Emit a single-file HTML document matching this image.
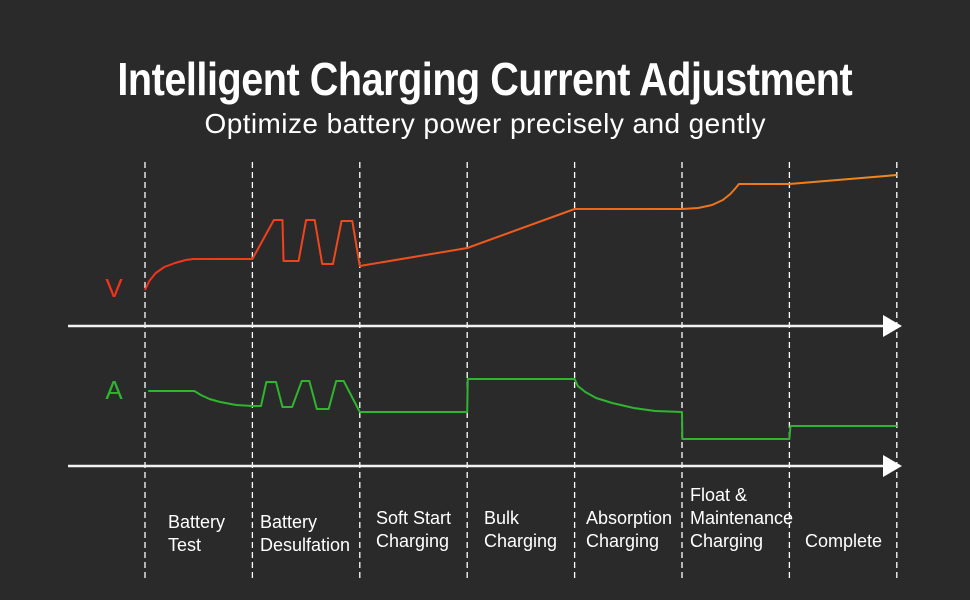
<!DOCTYPE html>
<html><head><meta charset="utf-8"><style>
html,body{margin:0;padding:0;background:#2a2a2a;}
svg{display:block}
</style></head><body>
<svg width="970" height="600" viewBox="0 0 970 600">
<defs>
<linearGradient id="vg" x1="145" y1="0" x2="897" y2="0" gradientUnits="userSpaceOnUse">
<stop offset="0" stop-color="#f2321c"/><stop offset="0.45" stop-color="#f0581c"/><stop offset="1" stop-color="#f08a1c"/>
</linearGradient>
</defs>
<rect width="970" height="600" fill="#2a2a2a"/>
<text x="485" y="95" text-anchor="middle" fill="#fff" font-family="Liberation Sans, sans-serif" font-weight="bold" font-size="46" transform="translate(485 0) scale(0.86 1) translate(-485 0)" textLength="855">Intelligent Charging Current Adjustment</text>
<text x="485" y="133" text-anchor="middle" fill="#fff" font-family="Liberation Sans, sans-serif" font-size="28" textLength="561">Optimize battery power precisely and gently</text>
<g id="grid"></g>
<g id="axes"></g>
<text x="114" y="297" text-anchor="middle" fill="#f2321c" font-family="Liberation Sans, sans-serif" font-size="26">V</text>
<text x="114" y="399" text-anchor="middle" fill="#2fb52f" font-family="Liberation Sans, sans-serif" font-size="26">A</text>
<g id="series"></g>
<g id="labels"></g>
</svg>
<script>
const stages = [["Battery","Test"],["Battery","Desulfation"],["Soft Start","Charging"],["Bulk","Charging"],["Absorption","Charging"],["Float &","Maintenance","Charging"],["Complete"]];
// time in stage units (0..7), values in relative units
const vTime = [0,0.04,0.1,0.18,0.28,0.38,0.45,1,1.2,1.28,1.29,1.43,1.5,1.58,1.65,1.75,1.83,1.93,2,3,4,5,5.15,5.28,5.38,5.45,5.5,5.53,6,7];
const vVals = [36,45,53,59,63,66,67,67,106,106,65,65,106,106,62,62,105,105,60,78,117,117,118,121,126,132,138,142,142,151];
const aTime = [0.03,0.46,0.52,0.6,0.7,0.85,1,1.08,1.13,1.22,1.28,1.37,1.46,1.53,1.6,1.71,1.78,1.85,2,3,3.005,4,4.03,4.1,4.2,4.35,4.55,4.75,5,5.003,6,6.01,7];
const aVals = [75,75,71,67,64,61,60,60,84,84,59,59,85,85,57,57,85,85,54,54,87,87,80,74,68,63,58,55,54,27,27,40,40];
const x0=145, dx=107.4;
function xs(t){return x0+t*dx;}
function yv(v){return 326-v;}
function ya(v){return 466-v;}
const NS="http://www.w3.org/2000/svg";
function mk(tag,attrs,parent){const e=document.createElementNS(NS,tag);for(const k in attrs)e.setAttribute(k,attrs[k]);parent.appendChild(e);return e;}
const grid=document.getElementById('grid');
for(let i=0;i<=stages.length;i++){
  const l=mk('line',{x1:xs(i),x2:xs(i),y1:162,y2:580,stroke:'#fff','stroke-width':1.3,'stroke-dasharray':'6 4'},grid);
  
  
}
const axes=document.getElementById('axes');
[326,466].forEach((y,i)=>{
  const g=mk('g',{},axes);
  
  
  mk('line',{x1:68,x2:886,y1:y,y2:y,stroke:'#f2f2f2','stroke-width':2.5},g);
  mk('polygon',{points:`883,${y-11} 902,${y} 883,${y+11}`,fill:'#fff'},g);
});
const ser=document.getElementById('series');
const vp=mk('polyline',{points:vTime.map((t,i)=>xs(t)+','+yv(vVals[i])).join(' '),fill:'none',stroke:'url(#vg)','stroke-width':2,'stroke-linejoin':'round'},ser);


const ap=mk('polyline',{points:aTime.map((t,i)=>xs(t)+','+ya(aVals[i])).join(' '),fill:'none',stroke:'#2fb52f','stroke-width':2,'stroke-linejoin':'round'},ser);


const lab=document.getElementById('labels');
const labelX=[168,260,376,484,586,690,805];
stages.forEach((s,i)=>{
  const n=s.length;
  const baseY = n===3?501:(n===2?(i<2?528:524):547);
  const tx = labelX[i];
  const t=mk('text',{x:tx,y:baseY,fill:'#fff','font-family':'Liberation Sans, sans-serif','font-size':18,'text-anchor':'start'},lab);
  
  
  s.forEach((line,j)=>{const ts=mk('tspan',{x:tx,dy:j===0?0:23},t);ts.textContent=line;});
});
</script>
</body></html>
